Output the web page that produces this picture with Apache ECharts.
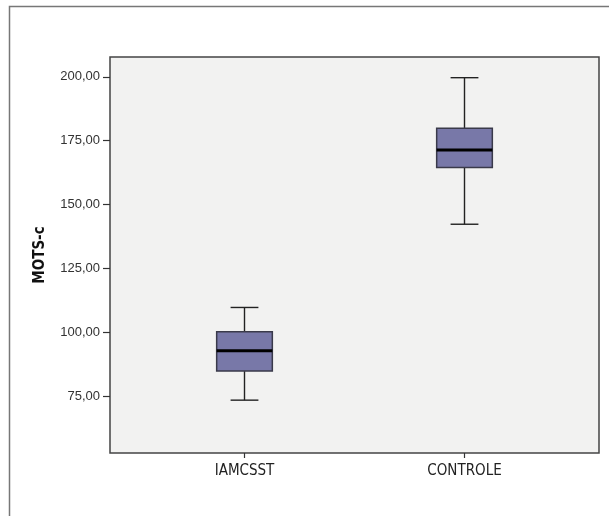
<!DOCTYPE html>
<html>
<head>
<meta charset="utf-8">
<script src="https://cdn.jsdelivr.net/npm/echarts@6/dist/echarts.min.js"></script>
<style>
html,body{margin:0;padding:0;background:#fff;}
#chart{width:609px;height:516px;}
</style>
</head>
<body>
<div id="chart"></div>
<script>
const categories = ['IAMCSST', 'CONTROLE'];
const mins    = [73.4, 142.3];
const q1s     = [84.8, 164.5];
const medians = [92.7, 171.4];
const q3s     = [100.2, 179.9];
const maxs    = [109.7, 199.7];
const yTicks  = [75, 100, 125, 150, 175, 200];
const yMin = 52.7, yMax = 207.8;

const data = categories.map((c, i) => [i, mins[i], q1s[i], medians[i], q3s[i], maxs[i]]);

const chart = echarts.init(document.getElementById('chart'));
const fmt = v => v.toFixed(2).replace('.', ',');
const narrow = "'DejaVu Sans Condensed', 'Liberation Sans Narrow', sans-serif";

chart.setOption({
  animation: false,
  graphic: [{
    type: 'rect', z: -10, silent: true,
    shape: { x: 9.5, y: 6.5, width: 700, height: 600 },
    style: { fill: 'none', stroke: '#777', lineWidth: 1.5 }
  }],
  grid: [
    { left: 110, top: 57, width: 489, height: 396, show: true,
      backgroundColor: '#f2f2f1', borderColor: '#444', borderWidth: 1.5 },
    { left: 134.5, top: 57, width: 440, height: 396, show: false }
  ],
  xAxis: [
    { type: 'value', gridIndex: 0, show: false, min: 0, max: 1 },
    { type: 'category', gridIndex: 1, data: categories,
      axisLine: { show: false },
      axisTick: { show: true, alignWithLabel: true, length: 5, lineStyle: { color: '#333', width: 1.2 } },
      axisLabel: { fontFamily: narrow, fontSize: 15, color: '#222', margin: 11 },
      splitLine: { show: false } }
  ],
  yAxis: [
    { type: 'value', gridIndex: 0, min: yMin, max: yMax,
      name: 'MOTS-c', nameLocation: 'middle', nameGap: 62,
      nameTextStyle: { fontFamily: narrow, fontWeight: 'bold', fontSize: 15, color: '#111' },
      axisLine: { show: false },
      axisTick: { show: true, length: 7, customValues: yTicks, lineStyle: { color: '#333', width: 1.2 } },
      axisLabel: { customValues: yTicks, formatter: fmt, fontFamily: 'Liberation Sans', fontSize: 13, color: '#333', margin: 10 },
      splitLine: { show: false } },
    { type: 'value', gridIndex: 1, min: yMin, max: yMax, show: false }
  ],
  series: [{
    type: 'custom',
    xAxisIndex: 1, yAxisIndex: 1,
    encode: { x: 0, y: [1, 2, 3, 4, 5] },
    data: data,
    renderItem: function (params, api) {
      const x = api.value(0);
      const pMin = api.coord([x, api.value(1)]);
      const pQ1 = api.coord([x, api.value(2)]);
      const pMed = api.coord([x, api.value(3)]);
      const pQ3 = api.coord([x, api.value(4)]);
      const pMax = api.coord([x, api.value(5)]);
      const band = api.size([1, 0])[0];
      const bw = band * 0.253;
      const cw = bw / 2;
      const cx = pMed[0];
      const ls = { stroke: '#222', lineWidth: 1.4 };
      return {
        type: 'group',
        children: [
          { type: 'line', shape: { x1: cx, y1: pQ3[1], x2: cx, y2: pMax[1] }, style: ls },
          { type: 'line', shape: { x1: cx, y1: pQ1[1], x2: cx, y2: pMin[1] }, style: ls },
          { type: 'line', shape: { x1: cx - cw / 2, y1: pMax[1], x2: cx + cw / 2, y2: pMax[1] }, style: ls },
          { type: 'line', shape: { x1: cx - cw / 2, y1: pMin[1], x2: cx + cw / 2, y2: pMin[1] }, style: ls },
          { type: 'rect', shape: { x: cx - bw / 2, y: pQ3[1], width: bw, height: pQ1[1] - pQ3[1] },
            style: { fill: '#7878a8', stroke: '#3a3a4a', lineWidth: 1.5 } },
          { type: 'line', shape: { x1: cx - bw / 2, y1: pMed[1], x2: cx + bw / 2, y2: pMed[1] },
            style: { stroke: '#000', lineWidth: 3 } }
        ]
      };
    }
  }]
});
</script>
</body>
</html>
